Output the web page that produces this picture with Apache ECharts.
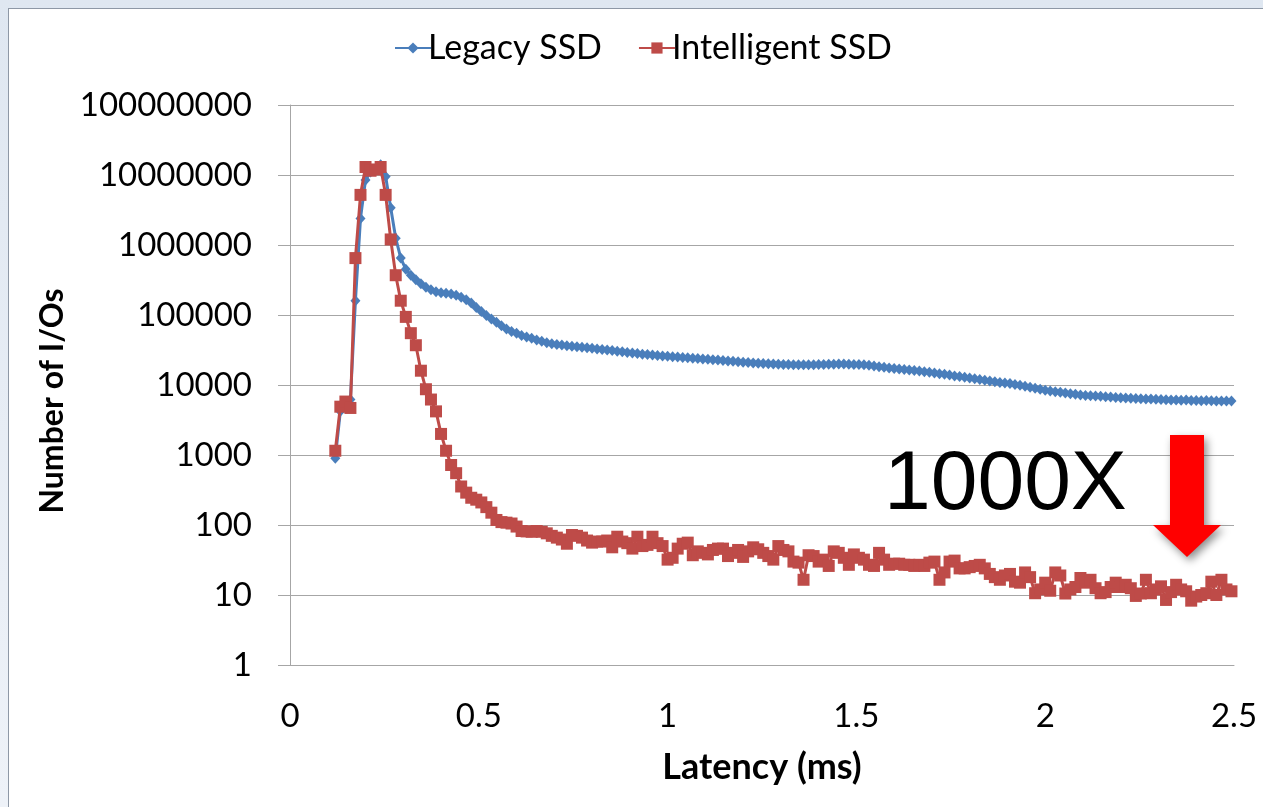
<!DOCTYPE html>
<html>
<head>
<meta charset="utf-8">
<script src="https://cdn.jsdelivr.net/npm/echarts@6/dist/echarts.min.js"></script>
<style>
html,body{margin:0;padding:0;width:1263px;height:807px;overflow:hidden;background:linear-gradient(180deg,#dfe7f1 0%,#eef2f8 100%);}
#panel{position:absolute;left:8px;top:8px;width:1255px;height:799px;background:#fff;border-left:1px solid #8e98a6;border-top:1px solid #8e98a6;box-sizing:border-box;}
#chart{position:absolute;left:0;top:0;width:1263px;height:807px;}
</style>
</head>
<body>
<div id="panel"></div>
<div id="chart"></div>
<script>
// Latency (ms) buckets
const latency = [
 0.12,0.1333,0.1467,0.16,0.1733,0.1867,0.2,0.2133,0.2267,0.24,0.2533,0.2667,0.28,0.2933,0.3067,
 0.32,0.3333,0.3467,0.36,0.3733,0.3867,0.4,0.4133,0.4267,0.44,0.4533,0.4667,0.48,0.4933,0.5067,
 0.52,0.5333,0.5467,0.56,0.5733,0.5867,0.6,0.6133,0.6267,0.64,0.6533,0.6667,0.68,0.6933,0.7067,
 0.72,0.7333,0.7467,0.76,0.7733,0.7867,0.8,0.8133,0.8267,0.84,0.8533,0.8667,0.88,0.8933,0.9067,
 0.92,0.9333,0.9467,0.96,0.9733,0.9867,1.0,1.0133,1.0267,1.04,1.0533,1.0667,1.08,1.0933,1.1067,
 1.12,1.1333,1.1467,1.16,1.1733,1.1867,1.2,1.2133,1.2267,1.24,1.2533,1.2667,1.28,1.2933,1.3067,
 1.32,1.3333,1.3467,1.36,1.3733,1.3867,1.4,1.4133,1.4267,1.44,1.4533,1.4667,1.48,1.4933,1.5067,
 1.52,1.5333,1.5467,1.56,1.5733,1.5867,1.6,1.6133,1.6267,1.64,1.6533,1.6667,1.68,1.6933,1.7067,
 1.72,1.7333,1.7467,1.76,1.7733,1.7867,1.8,1.8133,1.8267,1.84,1.8533,1.8667,1.88,1.8933,1.9067,
 1.92,1.9333,1.9467,1.96,1.9733,1.9867,2.0,2.0133,2.0267,2.04,2.0533,2.0667,2.08,2.0933,2.1067,
 2.12,2.1333,2.1467,2.16,2.1733,2.1867,2.2,2.2133,2.2267,2.24,2.2533,2.2667,2.28,2.2933,2.3067,
 2.32,2.3333,2.3467,2.36,2.3733,2.3867,2.4,2.4133,2.4267,2.44,2.4533,2.4667,2.48,2.4933
];
// Number of I/Os, Legacy SSD
const legacySSD = [
 900,4200,5500,6200,160000,2400000,8500000,11000000,12000000,14000000,9500000,3400000,1250000,650000,450000,
 370000,320000,280000,250000,230000,215000,208000,204000,200000,192000,180000,165000,148000,128000,112000,
 98000,88000,79000,70000,63000,58000,55000,51000,48500,46500,44000,42000,40000,39000,38000,
 37200,36500,35800,35200,34600,34000,33400,32800,32200,31600,31000,30400,29800,29200,28600,
 28100,27600,27200,26800,26400,26000,25700,25400,25100,24800,24500,24200,23900,23600,23300,
 23000,22700,22400,22100,21800,21500,21200,20900,20700,20500,20300,20100,19900,19800,19700,
 19600,19500,19400,19400,19400,19500,19600,19700,19800,19800,19900,19900,19800,19700,19600,
 19400,19100,18700,18300,17900,17500,17200,16900,16600,16400,16100,15800,15500,15200,14900,
 14500,14200,13900,13500,13200,12900,12600,12300,12000,11700,11400,11100,10900,10700,10500,
 10200,9900,9600,9300,9000,8700,8400,8200,8000,7850,7700,7500,7350,7200,7100,
 7000,6950,6900,6800,6750,6650,6550,6500,6450,6400,6350,6300,6300,6250,6200,
 6150,6100,6100,6050,6100,6000,6000,5950,6000,5950,5900,5900,5900,5900
];
// Number of I/Os, Intelligent SSD
const intelligentSSD = [
 1150,4900,5800,4700,650000,5200000,13000000,11500000,12000000,13000000,5200000,1200000,370000,160000,94000,
 55000,37000,16000,8700,6200,4200,2000,1150,720,550,355,290,245,230,210,
 180,150,118,110,108,105,95,82,81,80,82,80,76,70,66,
 62,54,72,70,66,60,56,58,58,60,48,68,58,55,46,
 68,50,52,68,55,50,32,34,46,54,56,37,42,40,38,
 44,46,46,36,40,44,35,42,48,45,40,36,32,50,44,
 42,30,29,16.5,37,36,30,32,26,42,40,34,27,38,34,
 32,27,26,40,32,27,28,28,27,27,26,27,26,29,30,
 16.5,21,30,31,24,24,25,26,27,24,20,18,16.5,19,20,
 15.5,15,21,18,10.6,12,15,11.5,21,19,10.5,12,13,17.5,15,
 16.5,12.5,10.6,11,13,15,13,14,12.5,9.7,10.5,16.5,10.6,12,13.3,
 8.5,11,14,12,11.3,8.3,9.5,10,10.6,15.5,10,16.5,12,11.3
];
const seriesNames = ['Legacy SSD', 'Intelligent SSD'];
const xTicks = [0, 0.5, 1, 1.5, 2, 2.5];
const annotation = '1000X';

const pair = (ys) => latency.map((x, i) => [x, ys[i]]);
const FONT = 'Lato';
const chart = echarts.init(document.getElementById('chart'), null, {renderer: 'canvas'});
chart.setOption({
  animation: false,
  backgroundColor: 'transparent',
  grid: {left: 290, right: 29, top: 105, bottom: 142, containLabel: false},
  legend: {
    data: seriesNames,
    left: 389, top: 26,
    itemWidth: 36, itemHeight: 14, itemGap: 36,
    textStyle: {fontFamily: FONT, fontSize: 34, color: '#000', padding: [0,0,0,-8]}
  },
  xAxis: {
    type: 'value', min: xTicks[0], max: xTicks[xTicks.length-1], interval: 0.5,
    name: 'Latency (ms)', nameLocation: 'middle', nameGap: 84,
    nameTextStyle: {fontFamily: FONT, fontSize: 36, fontWeight: 'bold', color: '#000'},
    axisLine: {show: true, lineStyle: {color: '#a6a6a6', width: 1}},
    axisTick: {show: false},
    splitLine: {show: false},
    axisLabel: {fontFamily: FONT, fontSize: 33, color: '#000', margin: 35,
      formatter: v => String(v)}
  },
  yAxis: {
    type: 'log', logBase: 10, min: 1, max: 100000000, interval: 1, splitNumber: 8,
    name: 'Number of I/Os', nameLocation: 'middle', nameGap: 220, nameRotate: 90,
    nameTextStyle: {fontFamily: FONT, fontSize: 32, fontWeight: 'bold', color: '#000', padding: [0, 32, 0, 0]},
    axisLine: {show: true, lineStyle: {color: '#a6a6a6', width: 1}},
    axisTick: {show: true, length: 12, lineStyle: {color: '#a6a6a6'}},
    splitLine: {show: true, lineStyle: {color: '#a6a6a6', width: 1}},
    minorTick: {show: false}, minorSplitLine: {show: false},
    axisLabel: {fontFamily: FONT, fontSize: 33, color: '#000', margin: 38,
      formatter: v => String(Math.round(v))}
  },
  series: [
    {
      name: seriesNames[0], type: 'line', data: pair(legacySSD),
      symbol: 'diamond', symbolSize: [10, 11], showSymbol: true, showAllSymbol: true,
      lineStyle: {color: '#4a7ebb', width: 3},
      itemStyle: {color: '#4a7ebb'}, z: 2
    },
    {
      name: seriesNames[1], type: 'line', data: pair(intelligentSSD),
      symbol: 'rect', symbolSize: 12, showSymbol: true, showAllSymbol: true,
      lineStyle: {color: '#be4b48', width: 3},
      itemStyle: {color: '#be4b48'}, z: 3
    }
  ],
  graphic: [
    {
      type: 'text', left: 884, top: 444, z: 10,
      style: {text: annotation, font: '84px "Liberation Sans", Arial, sans-serif', fill: '#000'}
    },
    {
      type: 'polygon', z: 10,
      shape: {points: [[1170,435],[1204,435],[1204,525],[1221,525],[1187,557],[1153,525],[1170,525]]},
      style: {fill: '#ff0000', shadowBlur: 8, shadowColor: 'rgba(0,0,0,0.45)', shadowOffsetX: 3, shadowOffsetY: 4}
    }
  ]
});
</script>
</body>
</html>
